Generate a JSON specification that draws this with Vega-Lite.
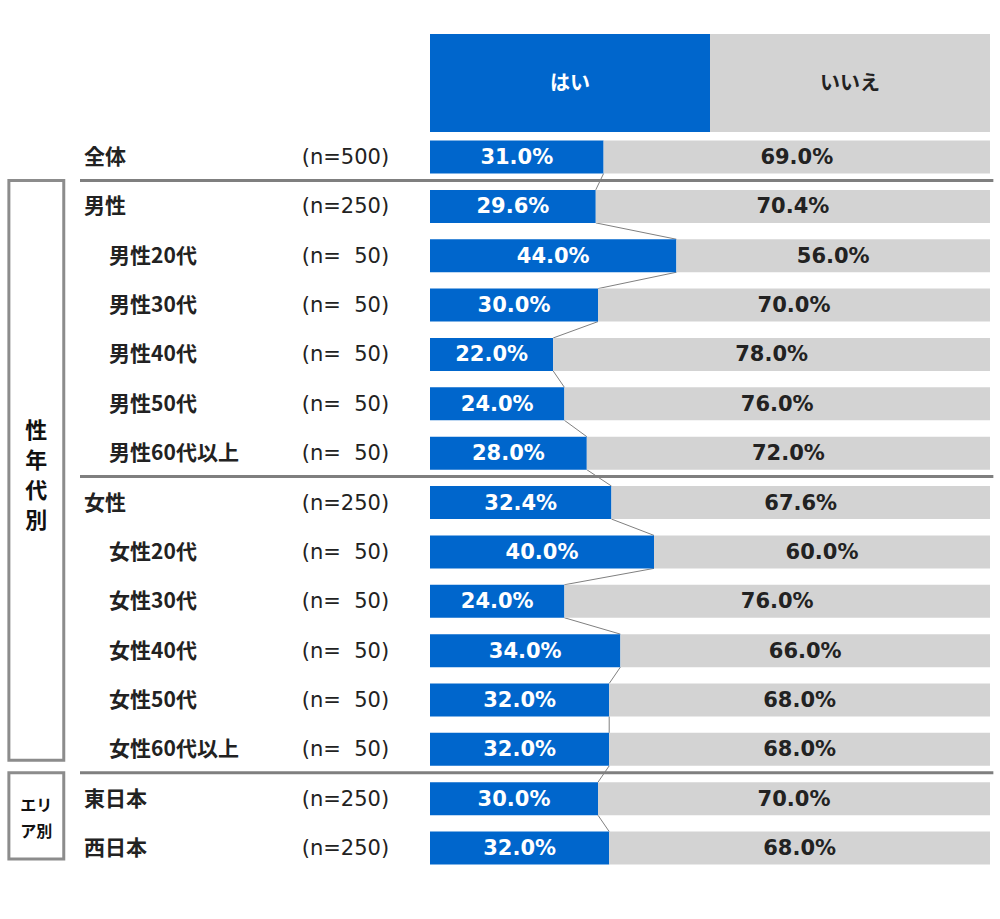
{
  "$schema": "https://vega.github.io/schema/vega-lite/v6.json",
  "width": 1000,
  "height": 919,
  "autosize": "none",
  "padding": 0,
  "background": "white",
  "config": {"view": {"stroke": null}, "scale": {"continuousPadding": 0}},
  "datasets": {
    "rows": [
      {"row": 0, "label": "全体", "n": "(n=500)", "level": 1, "group": null, "yes": 31.0, "no": 69.0},
      {"row": 1, "label": "男性", "n": "(n=250)", "level": 1, "group": "性年代別", "yes": 29.6, "no": 70.4},
      {"row": 2, "label": "男性20代", "n": "(n=\u00a0\u00a050)", "level": 2, "group": "性年代別", "yes": 44.0, "no": 56.0},
      {"row": 3, "label": "男性30代", "n": "(n=\u00a0\u00a050)", "level": 2, "group": "性年代別", "yes": 30.0, "no": 70.0},
      {"row": 4, "label": "男性40代", "n": "(n=\u00a0\u00a050)", "level": 2, "group": "性年代別", "yes": 22.0, "no": 78.0},
      {"row": 5, "label": "男性50代", "n": "(n=\u00a0\u00a050)", "level": 2, "group": "性年代別", "yes": 24.0, "no": 76.0},
      {"row": 6, "label": "男性60代以上", "n": "(n=\u00a0\u00a050)", "level": 2, "group": "性年代別", "yes": 28.0, "no": 72.0},
      {"row": 7, "label": "女性", "n": "(n=250)", "level": 1, "group": "性年代別", "yes": 32.4, "no": 67.6},
      {"row": 8, "label": "女性20代", "n": "(n=\u00a0\u00a050)", "level": 2, "group": "性年代別", "yes": 40.0, "no": 60.0},
      {"row": 9, "label": "女性30代", "n": "(n=\u00a0\u00a050)", "level": 2, "group": "性年代別", "yes": 24.0, "no": 76.0},
      {"row": 10, "label": "女性40代", "n": "(n=\u00a0\u00a050)", "level": 2, "group": "性年代別", "yes": 34.0, "no": 66.0},
      {"row": 11, "label": "女性50代", "n": "(n=\u00a0\u00a050)", "level": 2, "group": "性年代別", "yes": 32.0, "no": 68.0},
      {"row": 12, "label": "女性60代以上", "n": "(n=\u00a0\u00a050)", "level": 2, "group": "性年代別", "yes": 32.0, "no": 68.0},
      {"row": 13, "label": "東日本", "n": "(n=250)", "level": 1, "group": "エリア別", "yes": 30.0, "no": 70.0},
      {"row": 14, "label": "西日本", "n": "(n=250)", "level": 1, "group": "エリア別", "yes": 32.0, "no": 68.0}
    ],
    "header": [
      {"answer": "yes", "label": "はい", "share": 50},
      {"answer": "no", "label": "いいえ", "share": 50}
    ]
  },
  "layer": [
    {
      "data": {"name": "header"},
      "mark": {"type": "bar", "size": 98, "orient": "horizontal"},
      "encoding": {
        "x": {"field": "share", "type": "quantitative", "stack": "zero", "scale": {"domain": [-76.786, 101.786], "nice": false, "zero": false, "padding": 0}, "axis": null},
        "y": {"datum": -1.5, "type": "quantitative", "scale": {"domain": [-3.181, 15.437], "nice": false, "zero": false, "reverse": true, "padding": 0}, "axis": null},
        "order": {"field": "answer", "sort": "descending"},
        "color": {"field": "answer", "type": "nominal", "scale": {"domain": ["yes", "no"], "range": ["#0066CC", "#D3D3D3"]}, "legend": null}
      }
    },
    {
      "data": {"name": "header"},
      "mark": {"type": "text", "font": "Noto Sans CJK JP", "fontWeight": "bold", "fontSize": 20, "baseline": "middle", "align": "center", "dy": 1},
      "encoding": {
        "x": {"field": "share", "type": "quantitative", "stack": "zero", "bandPosition": 0.5, "scale": {"domain": [-76.786, 101.786], "nice": false, "zero": false, "padding": 0}, "axis": null},
        "y": {"datum": -1.5, "type": "quantitative", "scale": {"domain": [-3.181, 15.437], "nice": false, "zero": false, "reverse": true, "padding": 0}, "axis": null},
        "order": {"field": "answer", "sort": "descending"},
        "detail": {"field": "answer"},
        "text": {"field": "label"},
        "color": {"condition": {"test": "datum.answer === 'yes'", "value": "white"}, "value": "#222222"}
      }
    },
    {
      "data": {"name": "rows"},
      "transform": [
        {"window": [{"op": "lead", "field": "yes", "as": "nextYes"}, {"op": "lead", "field": "row", "as": "nextRow"}], "sort": [{"field": "row", "order": "ascending"}]},
        {"filter": "isValid(datum.nextRow)"}
      ],
      "mark": {"type": "rule", "color": "#808080", "strokeWidth": 1, "yOffset": 16.5, "y2Offset": -16.5},
      "encoding": {
        "x": {"field": "yes", "type": "quantitative", "scale": {"domain": [-76.786, 101.786], "nice": false, "zero": false, "padding": 0}, "axis": null},
        "x2": {"field": "nextYes"},
        "y": {"field": "row", "type": "quantitative", "scale": {"domain": [-3.181, 15.437], "nice": false, "zero": false, "reverse": true, "padding": 0}, "axis": null},
        "y2": {"field": "nextRow"}
      }
    },
    {
      "data": {"name": "rows"},
      "transform": [{"fold": ["yes", "no"], "as": ["answer", "pct"]}],
      "mark": {"type": "bar", "size": 33, "orient": "horizontal"},
      "encoding": {
        "x": {"field": "pct", "type": "quantitative", "stack": "zero", "scale": {"domain": [-76.786, 101.786], "nice": false, "zero": false, "padding": 0}, "axis": null},
        "y": {"field": "row", "type": "quantitative", "scale": {"domain": [-3.181, 15.437], "nice": false, "zero": false, "reverse": true, "padding": 0}, "axis": null},
        "order": {"field": "answer", "sort": "descending"},
        "color": {"field": "answer", "type": "nominal", "scale": {"domain": ["yes", "no"], "range": ["#0066CC", "#D3D3D3"]}, "legend": null}
      }
    },
    {
      "data": {"name": "rows"},
      "transform": [{"fold": ["yes", "no"], "as": ["answer", "pct"]}],
      "mark": {"type": "text", "font": "DejaVu Sans", "fontWeight": "bold", "fontSize": 21, "baseline": "middle", "align": "center", "dy": 1, "text": {"expr": "format(datum.pct, '.1f') + '%'"}},
      "encoding": {
        "x": {"field": "pct", "type": "quantitative", "stack": "zero", "bandPosition": 0.5, "scale": {"domain": [-76.786, 101.786], "nice": false, "zero": false, "padding": 0}, "axis": null},
        "y": {"field": "row", "type": "quantitative", "scale": {"domain": [-3.181, 15.437], "nice": false, "zero": false, "reverse": true, "padding": 0}, "axis": null},
        "order": {"field": "answer", "sort": "descending"},
        "detail": {"field": "answer"},
        "color": {"condition": {"test": "datum.answer === 'yes'", "value": "white"}, "value": "#222222"}
      }
    },
    {
      "data": {"name": "rows"},
      "transform": [
        {"window": [{"op": "lag", "field": "level", "as": "prevLevel"}, {"op": "lag", "field": "group", "as": "prevGroup"}], "sort": [{"field": "row", "order": "ascending"}]},
        {"filter": "datum.row > 0 && (datum.group !== datum.prevGroup || (datum.level === 1 && datum.prevLevel === 2))"}
      ],
      "mark": {"type": "rule", "color": "#7F7F7F", "strokeWidth": 3, "yOffset": -26},
      "encoding": {
        "x": {"datum": -62.5, "type": "quantitative", "scale": {"domain": [-76.786, 101.786], "nice": false, "zero": false, "padding": 0}, "axis": null},
        "x2": {"datum": 100.6},
        "y": {"field": "row", "type": "quantitative", "scale": {"domain": [-3.181, 15.437], "nice": false, "zero": false, "reverse": true, "padding": 0}, "axis": null}
      }
    },
    {
      "data": {"name": "rows"},
      "transform": [{"filter": "isValid(datum.group)"}],
      "mark": {"type": "rect", "fill": "white", "stroke": "#8C8C8C", "strokeWidth": 3, "yOffset": -26, "y2Offset": 11},
      "encoding": {
        "x": {"datum": -75.2, "type": "quantitative", "scale": {"domain": [-76.786, 101.786], "nice": false, "zero": false, "padding": 0}, "axis": null},
        "x2": {"datum": -65.4},
        "y": {"aggregate": "min", "field": "row", "type": "quantitative", "scale": {"domain": [-3.181, 15.437], "nice": false, "zero": false, "reverse": true, "padding": 0}, "axis": null},
        "y2": {"aggregate": "max", "field": "row"},
        "detail": {"field": "group"}
      }
    },
    {
      "data": {"name": "rows"},
      "transform": [{"filter": "datum.group === '性年代別'"}],
      "mark": {"type": "text", "font": "Noto Sans CJK JP", "fontWeight": "bold", "fontSize": 22, "lineHeight": 30, "baseline": "middle", "align": "center", "yOffset": -47, "color": "#111111", "text": {"expr": "split(datum.group, '')"}},
      "encoding": {
        "x": {"datum": -70.3, "type": "quantitative", "scale": {"domain": [-76.786, 101.786], "nice": false, "zero": false, "padding": 0}, "axis": null},
        "y": {"aggregate": "mean", "field": "row", "type": "quantitative", "scale": {"domain": [-3.181, 15.437], "nice": false, "zero": false, "reverse": true, "padding": 0}, "axis": null},
        "detail": {"field": "group"}
      }
    },
    {
      "data": {"name": "rows"},
      "transform": [{"filter": "datum.group === 'エリア別'"}],
      "mark": {"type": "text", "font": "Noto Sans CJK JP", "fontWeight": "bold", "fontSize": 16, "lineHeight": 26, "baseline": "middle", "align": "center", "yOffset": -17, "color": "#111111", "text": {"expr": "[slice(datum.group, 0, 2), slice(datum.group, 2)]"}},
      "encoding": {
        "x": {"datum": -70.3, "type": "quantitative", "scale": {"domain": [-76.786, 101.786], "nice": false, "zero": false, "padding": 0}, "axis": null},
        "y": {"aggregate": "mean", "field": "row", "type": "quantitative", "scale": {"domain": [-3.181, 15.437], "nice": false, "zero": false, "reverse": true, "padding": 0}, "axis": null},
        "detail": {"field": "group"}
      }
    },
    {
      "data": {"name": "rows"},
      "transform": [{"filter": "datum.level === 1"}],
      "mark": {"type": "text", "font": "Noto Sans CJK JP", "fontWeight": "bold", "fontSize": 21, "baseline": "middle", "align": "left", "dy": 1, "color": "#222222"},
      "encoding": {
        "x": {"datum": -61.8, "type": "quantitative", "scale": {"domain": [-76.786, 101.786], "nice": false, "zero": false, "padding": 0}, "axis": null},
        "y": {"field": "row", "type": "quantitative", "scale": {"domain": [-3.181, 15.437], "nice": false, "zero": false, "reverse": true, "padding": 0}, "axis": null},
        "text": {"field": "label"}
      }
    },
    {
      "data": {"name": "rows"},
      "transform": [{"filter": "datum.level === 2"}],
      "mark": {"type": "text", "font": "Noto Sans CJK JP", "fontWeight": "bold", "fontSize": 21, "baseline": "middle", "align": "left", "dy": 1, "color": "#222222"},
      "encoding": {
        "x": {"datum": -57.3, "type": "quantitative", "scale": {"domain": [-76.786, 101.786], "nice": false, "zero": false, "padding": 0}, "axis": null},
        "y": {"field": "row", "type": "quantitative", "scale": {"domain": [-3.181, 15.437], "nice": false, "zero": false, "reverse": true, "padding": 0}, "axis": null},
        "text": {"field": "label"}
      }
    },
    {
      "data": {"name": "rows"},
      "mark": {"type": "text", "font": "DejaVu Sans", "fontSize": 21, "baseline": "middle", "align": "right", "dy": 1, "color": "#222222"},
      "encoding": {
        "x": {"datum": -7.3, "type": "quantitative", "scale": {"domain": [-76.786, 101.786], "nice": false, "zero": false, "padding": 0}, "axis": null},
        "y": {"field": "row", "type": "quantitative", "scale": {"domain": [-3.181, 15.437], "nice": false, "zero": false, "reverse": true, "padding": 0}, "axis": null},
        "text": {"field": "n"}
      }
    }
  ]
}
